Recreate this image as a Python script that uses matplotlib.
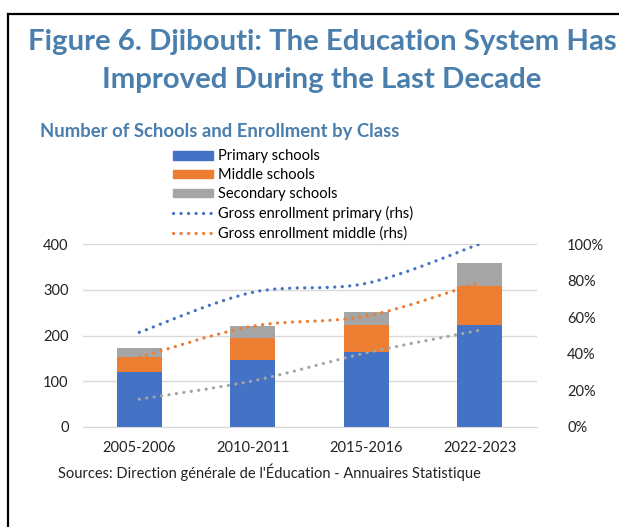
import numpy as np
import matplotlib.pyplot as plt
from matplotlib.path import Path
from matplotlib.patches import PathPatch, Patch
from matplotlib.lines import Line2D

plt.rcParams['font.family'] = ['Lato', 'DejaVu Sans']

# data
years = ['2005-2006', '2010-2011', '2015-2016', '2022-2023']
primary = [121, 146, 164, 223]
middle = [32, 49, 59, 86]
secondary = [19, 26, 28, 49]
enrol_primary = [0.517, 0.736, 0.785, 1.00]
enrol_middle = [0.381, 0.551, 0.606, 0.79]
enrol_secondary = [0.152, 0.252, 0.405, 0.529]

c_blue = '#4472C4'
c_orange = '#ED7D31'
c_gray = '#A5A5A5'
title_col = '#4A7EAC'


def smooth_path(x, y):
    # Excel-style smoothed line: cubic bezier segments through the points
    x = np.asarray(x, float)
    y = np.asarray(y, float)
    n = len(x)
    verts = [(x[0], y[0])]
    codes = [Path.MOVETO]
    for i in range(n - 1):
        i0 = max(i - 1, 0)
        i3 = min(i + 2, n - 1)
        c1 = (x[i] + (x[i + 1] - x[i0]) / 6, y[i] + (y[i + 1] - y[i0]) / 6)
        c2 = (x[i + 1] - (x[i3] - x[i]) / 6, y[i + 1] - (y[i3] - y[i]) / 6)
        verts += [c1, c2, (x[i + 1], y[i + 1])]
        codes += [Path.CURVE4] * 3
    return Path(verts, codes)


fig = plt.figure(figsize=(6.19, 5.27), dpi=100)

# frame lines (left and top only visible)
fig.add_artist(Line2D([8 / 619, 8 / 619], [0, 1 - 14 / 527], color='black', lw=1.6,
                      transform=fig.transFigure))
fig.add_artist(Line2D([8 / 619, 1], [1 - 14 / 527, 1 - 14 / 527], color='black', lw=1.6,
                      transform=fig.transFigure))

fig.text(322 / 619, 1 - 42 / 527, 'Figure 6. Djibouti: The Education System Has',
         ha='center', va='center', fontsize=21.2, fontweight='bold', color=title_col)
fig.text(322 / 619, 1 - 80 / 527, 'Improved During the Last Decade',
         ha='center', va='center', fontsize=21.2, fontweight='bold', color=title_col)
fig.text(40 / 619, 1 - 131 / 527, 'Number of Schools and Enrollment by Class',
         ha='left', va='center', fontsize=13.3, fontweight='bold', color=title_col)

ax = fig.add_axes([82.5 / 619, 1 - 427 / 527, 454 / 619, 183 / 527])
x = np.arange(len(years))
w = 0.4
ax.bar(x, primary, w, color=c_blue, zorder=2)
ax.bar(x, middle, w, bottom=primary, color=c_orange, zorder=2)
ax.bar(x, secondary, w, bottom=np.add(primary, middle), color=c_gray, zorder=2)

ax.set_xlim(-0.5, len(years) - 0.5)
ax.set_ylim(0, 400)
ax.set_yticks([0, 100, 200, 300, 400])
ax.set_xticks(x)
ax.set_xticklabels(years)
ax.grid(axis='y', color='#D9D9D9', lw=1, zorder=0)
for s in ['top', 'right', 'left']:
    ax.spines[s].set_visible(False)
ax.spines['bottom'].set_color('#D9D9D9')
ax.tick_params(axis='both', length=0, labelsize=10.5, colors='#222222')
ax.tick_params(axis='y', pad=10)
ax.tick_params(axis='x', pad=10)

ax2 = ax.twinx()
ax2.set_ylim(0, 1)
ax2.set_yticks([0, 0.2, 0.4, 0.6, 0.8, 1.0])
ax2.set_yticklabels(['0%', '20%', '40%', '60%', '80%', '100%'])
for s in ax2.spines.values():
    s.set_visible(False)
ax2.tick_params(axis='y', length=0, labelsize=10.5, colors='#222222', pad=22)

for vals, col in [(enrol_primary, c_blue), (enrol_middle, c_orange), (enrol_secondary, c_gray)]:
    patch = PathPatch(smooth_path(x, vals), facecolor='none', edgecolor=col, lw=2.3,
                      linestyle=(0, (0.05, 2.3)), capstyle='round', zorder=3)
    ax2.add_patch(patch)

handles = [Patch(color=c_blue), Patch(color=c_orange), Patch(color=c_gray),
           Line2D([], [], color=c_blue, lw=2.3, linestyle=(0, (0.05, 2.3)), dash_capstyle='round'),
           Line2D([], [], color=c_orange, lw=2.3, linestyle=(0, (0.05, 2.3)), dash_capstyle='round')]
labels = ['Primary schools', 'Middle schools', 'Secondary schools',
          'Gross enrollment primary (rhs)', 'Gross enrollment middle (rhs)']
fig.legend(handles, labels, loc='upper left', bbox_to_anchor=(166 / 619, 1 - 142 / 527),
           frameon=False, fontsize=10.5, handlelength=2.75, handleheight=0.55,
           labelspacing=0.34, handletextpad=0.35, borderpad=0)

fig.text(58 / 619, 1 - 472 / 527,
         "Sources: Direction générale de l'Éducation - Annuaires Statistique",
         ha='left', va='center', fontsize=10.5, color='#222222')

fig.savefig('out.png', dpi=100)
